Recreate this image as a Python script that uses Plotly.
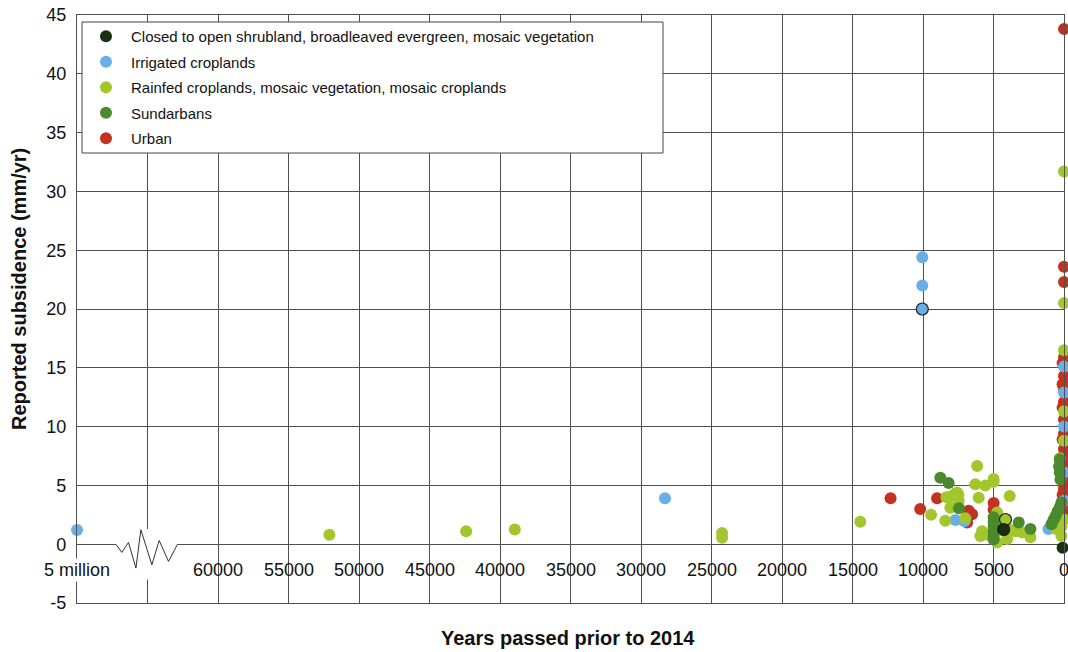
import plotly.graph_objects as go

# ---------------- data ----------------
series_names = [
    "Closed to open shrubland, broadleaved evergreen, mosaic vegetation",
    "Irrigated croplands",
    "Rainfed croplands, mosaic vegetation, mosaic croplands",
    "Sundarbans",
    "Urban",
]

closed_x = [4280, 100]
closed_y = [1.25, -0.3]

irrigated_x = [70000, 28300, 10050, 10050, 10050, 7700, 7050, 1100, 0, 0, 0, 0, 0]
irrigated_y = [1.2, 3.9, 24.4, 22.0, 20.0, 2.05, 1.95, 1.3, 15.1, 12.9, 10.0, 6.1, 3.7]

rainfed_x = [52100, 42400, 38950, 24250, 24250, 14450, 9430, 8420, 8340, 8060, 7940,
             7700, 7580, 7470, 7490, 7000, 6160, 6290, 5580, 4990, 4990, 6050, 3850,
             5810, 5930, 5450, 4740, 4510, 4740, 4150, 4030, 3800, 3440, 2970, 2380,
             0, 0, 0, 0, 0, 300, 0, 180, 530, 180]
rainfed_y = [0.8, 1.1, 1.25, 0.95, 0.55, 1.9, 2.5, 2.0, 4.0, 3.1, 4.1,
             4.3, 4.4, 3.7, 4.2, 2.2, 6.65, 5.1, 5.0, 5.3, 5.55, 3.95, 4.1,
             1.1, 0.7, 0.8, 2.7, 2.0, 0.15, 2.1, 0.45, 1.2, 1.1, 1.0, 0.6,
             31.7, 20.5, 16.5, 11.3, 8.8, 7.3, 2.1, 1.5, 1.3, 0.7]

sundarbans_x = [8770, 8180, 7450, 4990, 4990, 4990, 4990, 4990, 4990, 3210, 2380,
                890, 750, 600, 450, 300, 180, 300, 350, 300, 250]
sundarbans_y = [5.65, 5.2, 3.05, 2.3, 1.9, 1.5, 1.1, 0.7, 0.4, 1.85, 1.3,
                1.7, 2.05, 2.4, 2.8, 3.15, 3.55, 7.2, 6.6, 6.1, 5.5]

urban_x = [0, 0, 0, 0, 100, 0, 100, 0, 0, 100, 0, 0, 100, 0, 0, 100, 0, 0, 100, 0,
           0, 100, 0, 0, 0,
           12300, 10200, 9000, 6760, 6520, 6870, 4990, 4990]
urban_y = [43.8, 23.6, 22.3, 15.9, 15.4, 14.3, 13.6, 13.1, 12.1, 11.6, 10.6, 9.4,
           8.9, 8.1, 7.6, 7.1, 6.6, 6.1, 5.6, 5.1, 4.7, 4.2, 3.4, 2.8, 2.3,
           3.9, 3.0, 3.9, 2.85, 2.55, 1.85, 3.5, 2.95]

# points drawn with a dark outline in the reference
outlined_series = [series_names[1], series_names[2], series_names[0]]
outlined_x = [10050, 4150, 4280]
outlined_y = [20.0, 2.1, 1.25]

# axes
x_tick_values = [70000, 65000, 60000, 55000, 50000, 45000, 40000, 35000, 30000,
                 25000, 20000, 15000, 10000, 5000, 0]
x_tick_labels = ["5 million", "", "60000", "55000", "50000", "45000", "40000",
                 "35000", "30000", "25000", "20000", "15000", "10000", "5000", "0"]
y_tick_values = [-5, 0, 5, 10, 15, 20, 25, 30, 35, 40, 45]
y_tick_labels = ["-5", "0", "5", "10", "15", "20", "25", "30", "35", "40", "45"]

# axis-break decoration (data units)
break_x = [67240, 66820, 66350, 65820, 65470, 64690, 64170, 63510, 62870]
break_y = [0.0, -0.70, 0.15, -2.03, 1.23, -1.75, 0.32, -1.47, 0.0]

x_title = "Years passed prior to 2014"
y_title = "Reported subsidence (mm/yr)"

# ---------------- styles ----------------
colors = {
    series_names[0]: "#1b3013",
    series_names[1]: "#6aaee6",
    series_names[2]: "#a2c62c",
    series_names[3]: "#4a892c",
    series_names[4]: "#c2321f",
}
FONT = "Liberation Sans, Arial, Helvetica, sans-serif"
GRID = "#505050"
MSIZE = 12
W, H = 1068, 652
ML, MR, MT, MB = 77, 4, 15, 49
PW, PH = W - ML - MR, H - MT - MB


def px_to_paper_x(px):
    return (px - ML) / PW


def px_to_paper_y(py):
    return 1 - (py - MT) / PH


data_by_series = {
    series_names[0]: (closed_x, closed_y),
    series_names[1]: (irrigated_x, irrigated_y),
    series_names[2]: (rainfed_x, rainfed_y),
    series_names[3]: (sundarbans_x, sundarbans_y),
    series_names[4]: (urban_x, urban_y),
}
draw_order = [series_names[4], series_names[1], series_names[2], series_names[3], series_names[0]]

fig = go.Figure()
for name in draw_order:
    xs, ys = data_by_series[name]
    fig.add_trace(go.Scatter(
        x=xs, y=ys, mode="markers", name=name,
        legendgroup=name, legendrank=series_names.index(name) + 1,
        marker=dict(size=MSIZE, color=colors[name], line=dict(width=0)),
        cliponaxis=False, hoverinfo="x+y+name",
    ))

for s, xv, yv in zip(outlined_series, outlined_x, outlined_y):
    fig.add_trace(go.Scatter(
        x=[xv], y=[yv], mode="markers", showlegend=False, legendgroup=s,
        marker=dict(size=MSIZE, color=colors[s], line=dict(width=1.2, color="#222222")),
        cliponaxis=False, hoverinfo="skip",
    ))

shapes = [
    # legend frame
    dict(type="rect", xref="paper", yref="paper",
         x0=px_to_paper_x(82), x1=px_to_paper_x(663),
         y0=px_to_paper_y(153), y1=px_to_paper_y(22),
         fillcolor="white", line=dict(color="#444444", width=1), layer="above"),
    # axis break mask
    dict(type="rect", xref="x", yref="y", x0=break_x[0], x1=break_x[-1],
         y0=-3.0, y1=1.3, fillcolor="white", line=dict(width=0), layer="above"),
]
path = "M " + " L ".join(f"{bx},{by}" for bx, by in zip(break_x, break_y))
shapes.append(dict(type="path", xref="x", yref="y", path=path,
                   line=dict(color="#333333", width=1), layer="above"))

annotations = []
for v, lab in zip(x_tick_values, x_tick_labels):
    if not lab:
        continue
    annotations.append(dict(
        x=v, y=-2.17, xref="x", yref="y", text=lab, showarrow=False,
        xanchor="center", yanchor="middle",
        font=dict(family=FONT, size=18, color="#111111"),
        bgcolor="white" if lab == "5 million" else None,
        borderpad=1,
    ))
annotations.append(dict(
    x=0.5, y=0, xref="paper", yref="paper", text=f"<b>{x_title}</b>",
    showarrow=False, xanchor="center", yanchor="middle", yshift=-35, xshift=-3,
    font=dict(family=FONT, size=20, color="#111111"),
))
annotations.append(dict(
    x=0, y=px_to_paper_y(289), xref="paper", yref="paper", text=f"<b>{y_title}</b>",
    showarrow=False, xanchor="center", yanchor="middle", xshift=-58, textangle=-90,
    font=dict(family=FONT, size=20, color="#111111"),
))

fig.update_layout(
    width=W, height=H,
    margin=dict(l=ML, r=MR, t=MT, b=MB),
    paper_bgcolor="white", plot_bgcolor="white",
    font=dict(family=FONT, color="#111111"),
    showlegend=True,
    legend=dict(
        x=px_to_paper_x(81), y=px_to_paper_y(20), xanchor="left", yanchor="top",
        bgcolor="rgba(0,0,0,0)", borderwidth=0,
        font=dict(family=FONT, size=15, color="#111111"),
        tracegroupgap=3, itemsizing="constant", itemwidth=40,
    ),
    xaxis=dict(
        range=[70000, 0], autorange=False,
        tickmode="array", tickvals=x_tick_values, showticklabels=False,
        showgrid=True, gridcolor=GRID, gridwidth=1.2,
        zeroline=True, zerolinecolor=GRID, zerolinewidth=1.2,
        showline=True, linecolor=GRID, linewidth=1.2, mirror=True, ticks="",
    ),
    yaxis=dict(
        range=[-5, 45], autorange=False,
        tickmode="array", tickvals=y_tick_values, ticktext=y_tick_labels,
        tickfont=dict(family=FONT, size=18, color="#111111"),
        showgrid=True, gridcolor=GRID, gridwidth=1.2,
        zeroline=True, zerolinecolor=GRID, zerolinewidth=1.2,
        showline=True, linecolor=GRID, linewidth=1.2, mirror=True, ticks="",
        ticklabelstandoff=6,
    ),
    shapes=shapes,
    annotations=annotations,
)

fig.write_html(
    "out.html",
    config={"displayModeBar": False},
    post_script="document.body.style.margin='0';document.body.style.overflow='hidden';",
)
